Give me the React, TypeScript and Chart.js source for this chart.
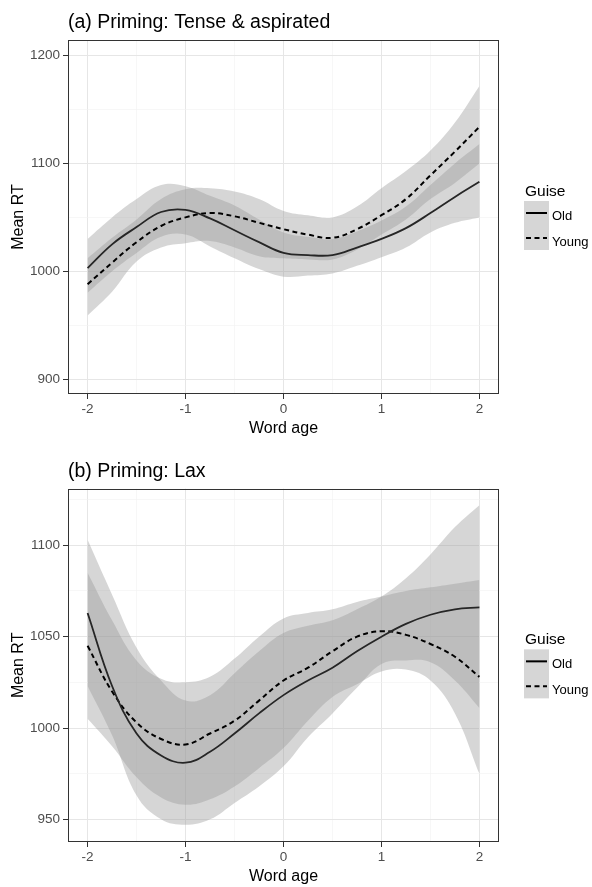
import React, { useEffect, useRef } from 'react';
import { Chart, registerables } from 'chart.js';

Chart.register(...registerables);

const FONT = "'Liberation Sans', Arial, Helvetica, sans-serif";

// ---- data ----
const wordAge = [-2, -1.75, -1.5, -1.25, -1, -0.75, -0.5, -0.25, 0, 0.25, 0.5, 0.75, 1, 1.25, 1.5, 1.75, 2];

// (a) Priming: Tense & aspirated
const oldMeanA = [1003, 1025, 1041, 1055, 1057, 1049, 1038, 1027, 1017, 1015, 1015, 1022, 1030, 1040, 1054, 1069, 1083];
const oldUpperA = [1030, 1050, 1067, 1080, 1079, 1070, 1061, 1048, 1036, 1032, 1030, 1037, 1047, 1060, 1080, 1100, 1118];
const oldLowerA = [980, 1000, 1017, 1032, 1034, 1023, 1012, 1002, 995, 996, 998, 1005, 1013, 1022, 1036, 1045, 1050];
const youngMeanA = [988, 1008, 1027, 1042, 1050, 1054, 1051, 1045, 1039, 1034, 1031, 1039, 1052, 1067, 1089, 1111, 1134];
const youngUpperA = [1012, 1031, 1048, 1067, 1076, 1077, 1074, 1067, 1056, 1052, 1050, 1060, 1077, 1093, 1112, 1138, 1172];
const youngLowerA = [959, 981, 1009, 1022, 1026, 1028, 1022, 1014, 1012, 1011, 1011, 1020, 1034, 1048, 1067, 1082, 1100];

// (b) Priming: Lax
const oldMeanB = [1063, 1023, 997, 985, 981, 987, 997, 1008, 1018, 1026, 1033, 1042, 1050, 1057, 1062, 1065, 1066];
const oldUpperB = [1103, 1073, 1044, 1026, 1015, 1018, 1030, 1042, 1052, 1056, 1059, 1065, 1072, 1082, 1095, 1110, 1122];
const oldLowerB = [1023, 996, 963, 950, 947, 950, 959, 968, 979, 995, 1008, 1022, 1035, 1037, 1036, 1026, 1011];
const youngMeanB = [1045, 1020, 1003, 994, 991, 997, 1004, 1015, 1026, 1033, 1042, 1050, 1053, 1051, 1046, 1039, 1028];
const youngUpperB = [1085, 1059, 1037, 1027, 1025, 1028, 1038, 1050, 1060, 1063, 1065, 1069, 1072, 1075, 1077, 1079, 1081];
const youngLowerB = [1005, 990, 973, 962, 958, 961, 968, 978, 989, 1004, 1017, 1024, 1031, 1032, 1026, 1008, 975];

// ticks
const xTickValues = [-2, -1.5, -1, -0.5, 0, 0.5, 1, 1.5, 2];
const xTickLabelValues = [-2, -1, 0, 1, 2];
const yTickValuesA = [900, 950, 1000, 1050, 1100, 1150, 1200];
const yTickLabelValuesA = [900, 1000, 1100, 1200];
const yTickValuesB = [950, 975, 1000, 1025, 1050, 1075, 1100, 1125];
const yTickLabelValuesB = [950, 1000, 1050, 1100];

const titleA = '(a) Priming: Tense & aspirated';
const titleB = '(b) Priming: Lax';
const seriesNames = ['Old', 'Young'];
const legendTitle = 'Guise';
const xTitle = 'Word age';
const yTitle = 'Mean RT';

const BAND = 'rgba(153,153,153,0.4)';
const MAJOR_GRID = '#e6e6e6';
const MINOR_GRID = '#f1f1f1';
const DASH = [5, 3.5];

function decorPlugin(title: string) {
  return {
    id: 'decor',
    afterDraw(chart: any) {
      const { ctx, chartArea: ca } = chart;
      ctx.save();
      // panel border
      ctx.strokeStyle = '#333333';
      ctx.lineWidth = 1;
      ctx.strokeRect(Math.round(ca.left) + 0.5, Math.round(ca.top) + 0.5, Math.round(ca.right - ca.left) - 1, Math.round(ca.bottom - ca.top) - 1);
      // title
      ctx.fillStyle = '#000';
      ctx.textAlign = 'left';
      ctx.textBaseline = 'alphabetic';
      ctx.font = `19.5px ${FONT}`;
      ctx.fillText(title, ca.left, ca.top - 12);
      // legend
      const cy = (ca.top + ca.bottom) / 2;
      const lx = ca.right + 25;
      ctx.font = `15.5px ${FONT}`;
      ctx.fillText(legendTitle, lx + 1, cy - 21);
      ctx.fillStyle = BAND;
      ctx.fillRect(lx, cy - 16, 25, 49);
      ctx.strokeStyle = '#000';
      ctx.lineWidth = 2;
      ctx.beginPath();
      ctx.moveTo(lx + 2, cy - 4);
      ctx.lineTo(lx + 23, cy - 4);
      ctx.stroke();
      ctx.setLineDash(DASH);
      ctx.beginPath();
      ctx.moveTo(lx + 2, cy + 21);
      ctx.lineTo(lx + 23, cy + 21);
      ctx.stroke();
      ctx.setLineDash([]);
      ctx.fillStyle = '#000';
      ctx.font = `13px ${FONT}`;
      ctx.fillText(seriesNames[0], lx + 28, cy + 3);
      ctx.fillText(seriesNames[1], lx + 28, cy + 29);
      ctx.restore();
    },
  };
}

type PanelProps = {
  title: string;
  oldMean: number[];
  oldUpper: number[];
  oldLower: number[];
  youngMean: number[];
  youngUpper: number[];
  youngLower: number[];
  yMin: number;
  yMax: number;
  yTicks: number[];
  yLabels: number[];
  height: number;
  top: number;
  axisH: number;
  xTitlePad: number;
};

function Panel(p: PanelProps) {
  const ref = useRef<HTMLCanvasElement>(null);
  useEffect(() => {
    const pts = (arr: number[]) => wordAge.map((x, i) => ({ x, y: arr[i] }));
    const common = { pointRadius: 0, pointHoverRadius: 0, tension: 0.4 };
    const bandLine = { ...common, borderWidth: 0, borderColor: 'rgba(0,0,0,0)', backgroundColor: BAND };
    const chart = new Chart(ref.current as HTMLCanvasElement, {
      type: 'line',
      data: {
        datasets: [
          { ...common, label: seriesNames[0], data: pts(p.oldMean), borderColor: '#262626', borderWidth: 1.8, fill: false },
          { ...common, label: seriesNames[1], data: pts(p.youngMean), borderColor: '#000000', borderWidth: 2, borderDash: DASH, fill: false },
          { ...bandLine, label: 'Old upper', data: pts(p.oldUpper), fill: '+1' },
          { ...bandLine, label: 'Old lower', data: pts(p.oldLower), fill: false },
          { ...bandLine, label: 'Young upper', data: pts(p.youngUpper), fill: '+1' },
          { ...bandLine, label: 'Young lower', data: pts(p.youngLower), fill: false },
        ] as any,
      },
      options: {
        responsive: false,
        animation: false,
        events: [],
        layout: { padding: { left: 0, right: 93, top: p.top, bottom: 0 } },
        plugins: { legend: { display: false }, tooltip: { enabled: false }, title: { display: false } },
        scales: {
          x: {
            type: 'linear',
            min: -2.2,
            max: 2.2,
            afterBuildTicks: (s: any) => {
              s.ticks = xTickValues.map((v) => ({ value: v }));
            },
            afterFit: (s: any) => {
              s.height = p.axisH;
            },
            ticks: {
              autoSkip: false,
              maxRotation: 0,
              padding: 2,
              color: '#4d4d4d',
              font: { family: FONT, size: 13.5 },
              callback: (v: any) => (xTickLabelValues.includes(Number(v)) ? String(v) : ''),
            },
            grid: {
              color: (c: any) => (xTickLabelValues.includes(c.tick?.value) ? MAJOR_GRID : MINOR_GRID),
              lineWidth: (c: any) => (xTickLabelValues.includes(c.tick?.value) ? 1 : 0.6),
              tickColor: (c: any) => (xTickLabelValues.includes(c.tick?.value) ? '#333333' : 'rgba(0,0,0,0)'),
              tickLength: 5,
              drawTicks: true,
            },
            border: { display: false },
            title: { display: true, text: xTitle, color: '#000', font: { family: FONT, size: 16 }, padding: { top: 0, bottom: p.xTitlePad } },
          },
          y: {
            type: 'linear',
            min: p.yMin,
            max: p.yMax,
            afterBuildTicks: (s: any) => {
              s.ticks = p.yTicks.map((v) => ({ value: v }));
            },
            afterFit: (s: any) => {
              s.width = 68;
            },
            ticks: {
              autoSkip: false,
              padding: 3,
              color: '#4d4d4d',
              font: { family: FONT, size: 13.5 },
              callback: (v: any) => (p.yLabels.includes(Number(v)) ? String(v) : ''),
            },
            grid: {
              color: (c: any) => (p.yLabels.includes(c.tick?.value) ? MAJOR_GRID : MINOR_GRID),
              lineWidth: (c: any) => (p.yLabels.includes(c.tick?.value) ? 1 : 0.6),
              tickColor: (c: any) => (p.yLabels.includes(c.tick?.value) ? '#333333' : 'rgba(0,0,0,0)'),
              tickLength: 5,
              drawTicks: true,
            },
            border: { display: false },
            title: { display: true, text: yTitle, color: '#000', font: { family: FONT, size: 16 }, padding: { top: 8.9, bottom: 0 } },
          },
        },
      } as any,
      plugins: [decorPlugin(p.title)],
    });
    return () => chart.destroy();
  }, []);
  return <canvas ref={ref} width={592} height={p.height} style={{ display: 'block' }} />;
}

export default function App() {
  useEffect(() => {
    document.body.style.margin = '0';
    document.body.style.background = '#ffffff';
  }, []);
  return (
    <div style={{ width: 592, height: 887, background: '#ffffff' }}>
      <Panel
        title={titleA}
        oldMean={oldMeanA}
        oldUpper={oldUpperA}
        oldLower={oldLowerA}
        youngMean={youngMeanA}
        youngUpper={youngUpperA}
        youngLower={youngLowerA}
        yMin={886.1}
        yMax={1214.6}
        yTicks={yTickValuesA}
        yLabels={yTickLabelValuesA}
        height={443}
        top={40}
        axisH={49}
        xTitlePad={4.6}
      />
      <Panel
        title={titleB}
        oldMean={oldMeanB}
        oldUpper={oldUpperB}
        oldLower={oldLowerB}
        youngMean={youngMeanB}
        youngUpper={youngUpperB}
        youngLower={youngLowerB}
        yMin={937.6}
        yMax={1131}
        yTicks={yTickValuesB}
        yLabels={yTickLabelValuesB}
        height={444}
        top={45.7}
        axisH={45}
        xTitlePad={0.7}
      />
    </div>
  );
}
